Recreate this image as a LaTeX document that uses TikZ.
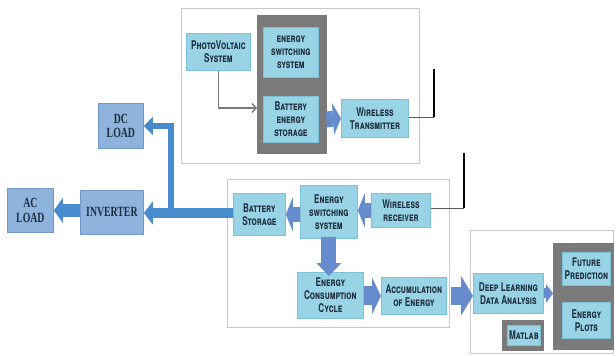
\documentclass[tikz,border=0pt]{standalone}
\usepackage{fontspec}
\setsansfont{TeX Gyre Heros}
\newfontfamily\boxfont[FakeStretch=0.68]{TeX Gyre Heros}
\newfontfamily\loadfont[FakeStretch=0.7]{Liberation Serif}
\usetikzlibrary{arrows.meta,calc}
\definecolor{cyanF}{RGB}{152,211,230}
\definecolor{cyanB}{RGB}{125,192,216}
\definecolor{steelF}{RGB}{142,180,222}
\definecolor{steelB}{RGB}{115,152,200}
\definecolor{perA}{RGB}{102,140,205}
\definecolor{bluA}{RGB}{72,140,205}
\definecolor{grayG}{RGB}{122,122,122}
\definecolor{frameC}{RGB}{200,200,200}
\definecolor{txtC}{RGB}{30,45,60}
\tikzset{
  cbox/.style={draw=cyanB, fill=cyanF, line width=0.8pt, align=center, anchor=north west,
    font=\boxfont\bfseries\scshape\fontsize{12}{13}\selectfont, text=txtC, inner sep=1pt},
  sbox/.style={draw=steelB, fill=steelF, line width=0.8pt, align=center, anchor=north west,
    font=\loadfont\bfseries\fontsize{14}{14.5}\selectfont, text=txtC, inner sep=1pt},
  gbox/.style={fill=grayG, draw=grayG, anchor=north west, inner sep=0pt},
  frame/.style={draw=frameC, line width=0.8pt, fill=white, anchor=north west, inner sep=0pt},
  parrow/.style={draw=perA},
  barrow/.style={draw=bluA},
  antenna/.style={draw=black, line width=2.2pt},
  feed/.style={draw=black!65, line width=0.9pt}
}
\begin{document}
\begin{tikzpicture}[x=1pt,y=-1pt]
\useasboundingbox (0,0) rectangle (616,356);
% containers
\node[frame, minimum width=238pt, minimum height=155pt] (top) at (181,8) {};
\node[frame, minimum width=222pt, minimum height=148pt] (bot) at (227,179) {};
\node[frame, minimum width=143pt, minimum height=123pt] (ana) at (470,230) {};
\node[gbox, minimum width=69pt, minimum height=138pt] (g1) at (257,15) {};
\node[gbox, minimum width=60pt, minimum height=106pt] (g2) at (553,243) {};
\node[gbox, minimum width=41pt, minimum height=30pt] (g3) at (502,320) {};
% top block
\node[cbox, minimum width=55pt, minimum height=50pt] (ess1) at (263,27) {energy\\switching\\system};
\node[cbox, minimum width=55pt, minimum height=46pt] (bes) at (263,96) {Battery\\energy\\storage};
\node[cbox, minimum width=64pt, minimum height=37pt] (pv) at (186,33) {PhotoVoltaic\\System};
\node[cbox, minimum width=67pt, minimum height=38pt] (wt) at (341,99) {Wireless\\Transmitter};
% loads
\node[sbox, minimum width=45pt, minimum height=45pt] (dc) at (98,103) {DC\\LOAD};
\node[sbox, minimum width=46pt, minimum height=44pt] (ac) at (7,188) {AC\\LOAD};
\node[sbox, minimum width=63pt, minimum height=44pt] (inv) at (80,190) {INVERTER};
% bottom block
\node[cbox, minimum width=52pt, minimum height=42pt] (bs) at (233,193) {Battery\\Storage};
\node[cbox, minimum width=57pt, minimum height=53pt] (ess2) at (300,185) {Energy\\switching\\system};
\node[cbox, minimum width=59pt, minimum height=34pt] (wr) at (371,193) {Wireless\\receiver};
\node[cbox, minimum width=66pt, minimum height=46pt] (ecc) at (297,272) {Energy\\Consumption\\Cycle};
\node[cbox, minimum width=65pt, minimum height=37pt] (acc) at (381,277) {Accumulation\\of Energy};
% analysis block
\node[cbox, minimum width=70pt, minimum height=40pt] (dl) at (473,273) {Deep Learning\\Data Analysis};
\node[cbox, minimum width=48pt, minimum height=33pt] (fp) at (562,252) {Future\\Prediction};
\node[cbox, minimum width=48pt, minimum height=36pt] (ep) at (562,302) {Energy\\Plots};
\node[cbox, minimum width=33pt, minimum height=20pt] (mat) at (507,325) {Matlab};
% PV feed
\draw[draw=grayG, line width=1.4pt, -{Straight Barb[length=4pt,width=9pt]}] (pv.south) |- (g1.west |- 0,108);
% fat arrows (periwinkle)
\draw[parrow, line width=16pt, -{Triangle[length=8pt,width=32pt,line width=0pt]}] (g1.east |- bes.east) -- (wt.west);
\draw[parrow, line width=15pt, -{Triangle[length=7pt,width=34pt,line width=0pt]}] (wr.west) -- (ess2.east |- wr.west);
\draw[parrow, line width=15pt, -{Triangle[length=7pt,width=34pt,line width=0pt]}] (ess2.west |- bs.east) -- (bs.east);
\draw[parrow, line width=15pt, -{Triangle[length=13pt,width=25pt,line width=0pt]}] ([yshift=2pt]ess2.south) -- ([yshift=-4pt]ess2.south |- ecc.north);
\draw[parrow, line width=19pt, -{Triangle[length=9pt,width=37pt,line width=0pt]}] (ecc.east |- acc.east) -- (acc.east -| acc.west);
\draw[parrow, line width=18pt, -{Triangle[length=12pt,width=40pt,line width=0pt]}] ([xshift=4pt]acc.east) -- (dl.west |- acc.east);
\draw[parrow, line width=10pt, -{Triangle[length=7pt,width=19pt,line width=0pt]}] (dl.east) -- (g2.west |- dl.east);
% blue power arrows
\coordinate (j) at (171,213);
\draw[barrow, line width=10pt, -{Triangle[length=9pt,width=23pt,line width=0pt]}] (bs.west |- j) -- (inv.east |- j);
\draw[barrow, line width=6pt, -{Triangle[length=9pt,width=18pt,line width=0pt]}] (j) |- (dc.east);
\draw[barrow, line width=13pt, -{Triangle[length=9pt,width=25pt,line width=0pt]}] (inv.west |- ac.east) -- (ac.east);
% antennas
\coordinate (a1t) at (434,69);
\coordinate (a1b) at (434,117);
\draw[feed] (wt.east |- a1b) -- (a1b);
\draw[antenna] (a1t) -- (a1b);
\coordinate (a2t) at (464,153);
\coordinate (a2b) at (464,208);
\draw[feed] (wr.east |- a2b) -- (a2b);
\draw[antenna] (a2t) -- (a2b);
\end{tikzpicture}
\end{document}
